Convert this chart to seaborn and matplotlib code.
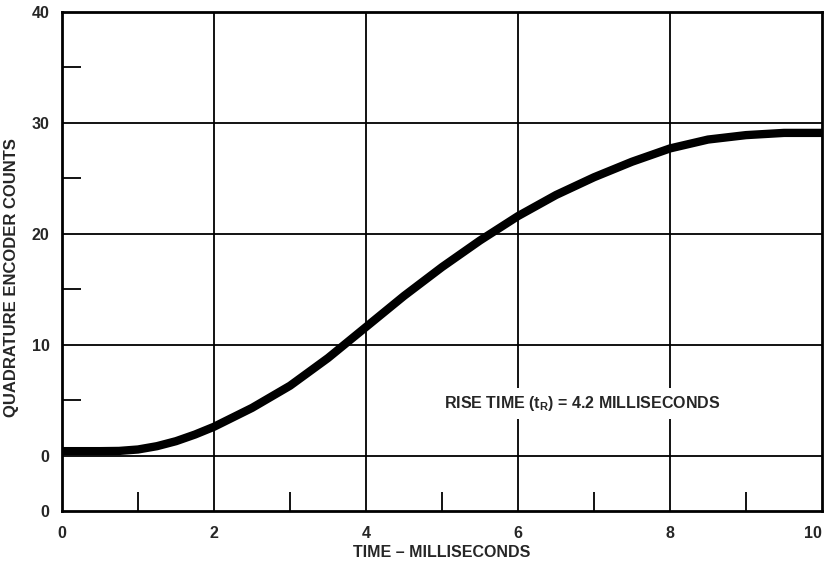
# step response of the encoder
import matplotlib
matplotlib.use('Agg')
import matplotlib.pyplot as plt
import seaborn as sns
import pandas as pd

# data
time_ms = [0, 0.5, 0.75, 1, 1.25, 1.5, 1.75, 2, 2.5, 3, 3.5, 4, 4.5, 5, 5.5,
           6, 6.5, 7, 7.5, 8, 8.5, 9, 9.5, 10]
counts = [0.4, 0.4, 0.42, 0.55, 0.85, 1.3, 1.9, 2.6, 4.3, 6.3, 8.8, 11.6,
          14.4, 17.0, 19.4, 21.6, 23.5, 25.1, 26.5, 27.7, 28.5, 28.9, 29.1, 29.1]
y_ticks = [-5, 0, 10, 20, 30, 40]
y_tick_labels = ['0', '0', '10', '20', '30', '40']
x_ticks = [0, 2, 4, 6, 8, 10]
x_minor = [1, 3, 5, 7, 9]
y_minor = [5, 15, 25, 35]
grid_x = [2, 4, 6, 8]
grid_y = [0, 10, 20, 30]

df = pd.DataFrame({'time': time_ms, 'counts': counts})

sns.set_style('white')
plt.rcParams['font.family'] = ['Liberation Sans', 'DejaVu Sans']
plt.rcParams['font.weight'] = 'bold'
plt.rcParams['mathtext.fontset'] = 'custom'
plt.rcParams['mathtext.rm'] = 'Liberation Sans:bold'
plt.rcParams['mathtext.default'] = 'rm'

fig = plt.figure(figsize=(8.25, 5.62), dpi=100)
ax = fig.add_axes([0.0752, 0.0907, 0.9212, 0.8879])

# grid lines
for gx in grid_x:
    ax.axvline(gx, color='black', lw=1.3, zorder=1)
for gy in grid_y:
    ax.axhline(gy, color='black', lw=1.3, zorder=1)

sns.lineplot(data=df, x='time', y='counts', color='black', lw=6,
             ax=ax, zorder=3, solid_capstyle='butt')

ax.set_xlim(0, 10)
ax.set_ylim(-5, 40)
ax.set_xticks(x_ticks)
ax.set_xticklabels([str(t) for t in x_ticks], fontsize=11.5, fontweight='bold')
# last label sits at the right edge, keep it inside the figure
ax.get_xticklabels()[-1].set_horizontalalignment('right')
ax.set_yticks(y_ticks)
ax.set_yticklabels(y_tick_labels, fontsize=11.5, fontweight='bold')
ax.set_xticks(x_minor, minor=True)
ax.set_yticks(y_minor, minor=True)
ax.tick_params(axis='both', which='major', length=0)
ax.tick_params(axis='x', which='major', pad=11)
ax.tick_params(axis='y', which='major', pad=9)
ax.tick_params(axis='x', which='minor', direction='in', length=14,
               width=1.3, color='black', bottom=True)
ax.tick_params(axis='y', which='minor', direction='in', length=14,
               width=1.3, color='black', left=True)

for s in ax.spines.values():
    s.set_color('black')
    s.set_linewidth(2)

ax.set_xlabel('TIME – MILLISECONDS', fontsize=11.5, fontweight='bold', labelpad=3)
ax.set_ylabel('QUADRATURE ENCODER COUNTS', fontsize=12, fontweight='bold')
ax.yaxis.set_label_coords(-0.056, 0.467)

ax.text(6.84, 4.7, 'RISE TIME (t$_R$) = 4.2 MILLISECONDS', fontsize=11.5,
        fontweight='bold', ha='center', va='center', zorder=4,
        bbox=dict(facecolor='white', edgecolor='none', pad=4))

fig.savefig('out.png', dpi=100)
